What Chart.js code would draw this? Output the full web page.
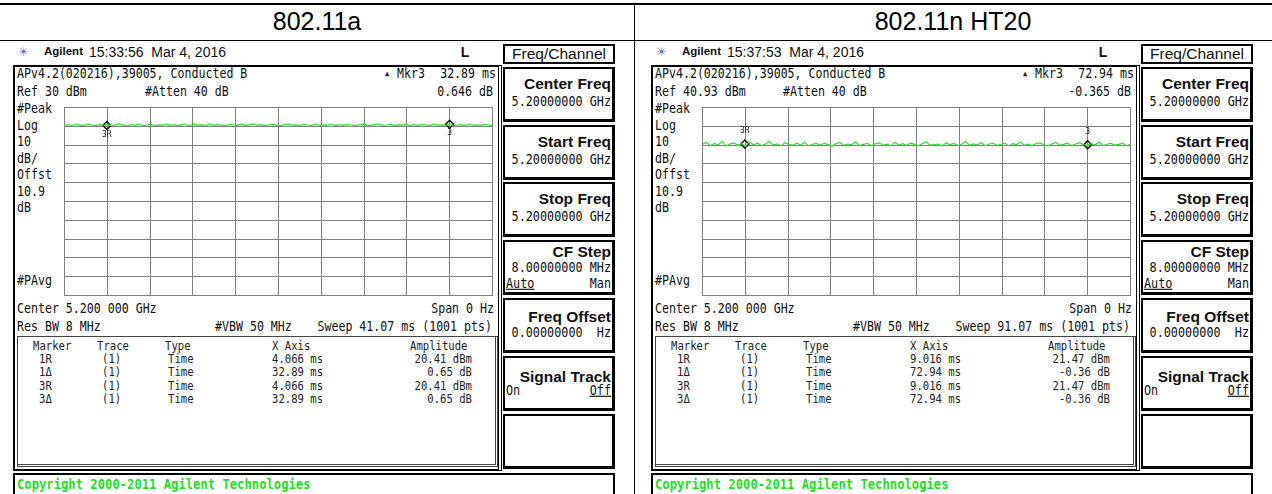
<!DOCTYPE html>
<html>
<head>
<meta charset="utf-8">
<script src="https://cdn.jsdelivr.net/npm/chart.js@4.4.1/dist/chart.umd.min.js"></script>
<style>
  html, body { margin: 0; padding: 0; background: #fff; }
  #page { position: relative; width: 1272px; height: 494px; overflow: hidden; background: #fff; }
  .t { position: absolute; white-space: pre; line-height: 1; color: #111; }
  .mono { font-family: 'DejaVu Sans Mono', 'Liberation Mono', monospace; font-size: 11.6px; }
  .small { font-family: 'DejaVu Sans Mono', 'Liberation Mono', monospace; font-size: 10.6px; color: #222; }
  .key { font-family: 'Liberation Sans', Arial, sans-serif; font-size: 15.5px; font-weight: bold; }
  .keyval { font-family: 'DejaVu Sans Mono', 'Liberation Mono', monospace; font-size: 11.8px; }
  .title { font-family: 'Liberation Sans', Arial, sans-serif; font-size: 25px; color: #000; }
  .box { position: absolute; box-sizing: border-box; }
  .u { text-decoration: underline; }
  canvas { position: absolute; }
</style>
</head>
<body>
<div id="page"></div>
<script>
// panel titles
const titles = ['802.11a', '802.11n HT20'];
const timestamps = ['15:33:56  Mar 4, 2016', '15:37:53  Mar 4, 2016'];
// analyzer settings (dBm, ms)
const refLevels = [30, 40.93];
const sweepTimes = [41.07, 91.07];
// marker readouts
const mkrRefTimes = [4.066, 9.016];
const mkrDeltaTimes = [32.89, 72.94];
const mkrRefAmps = [20.41, 21.47];
const mkrDeltaAmps = [0.65, -0.36];
const mkrDeltaReadout = ['0.646 dB', '-0.365 dB'];

// trace samples (dBm), evenly spaced across the sweep
const trace80211a = [
  20.5,20.9,20.3,21.1,20.6,20.4,21.2,20.7,20.3,20.9,
  20.5,21.0,20.4,20.8,21.3,20.6,20.2,20.9,20.5,21.1,
  20.4,20.7,21.0,20.3,20.8,20.6,21.2,20.5,20.9,20.4,
  21.0,20.7,20.3,21.1,20.6,20.8,20.4,21.2,20.5,20.9,
  20.6,20.3,21.0,20.7,20.5,21.1,20.4,20.8,21.3,20.6,
  20.9,20.4,20.7,21.0,20.5,20.3,20.9,21.2,20.6,20.8,
  20.4,21.0,20.7,20.5,21.1,20.3,20.8,20.6,21.2,20.4,
  20.9,20.5,21.0,20.7,20.3,20.8,21.1,20.6,20.4,20.9,
  21.2,20.5,20.7,21.0,20.4,20.8,20.6,21.1,20.3,20.9,
  20.5,21.0,20.7,20.4,21.2,20.6,20.8,20.5,21.0,20.3,
  20.7,20.9,20.4,21.1,20.6,20.8,20.5,21.0,20.7,20.4
];
const trace80211n = [
  21.2,22.4,20.6,21.8,21.0,22.9,20.4,21.5,22.1,20.8,
  21.7,20.3,22.6,21.1,21.9,20.7,21.4,23.0,20.9,21.6,
  20.5,22.2,21.3,20.8,21.9,21.0,22.5,20.6,21.4,21.8,
  20.9,22.0,21.2,20.4,21.7,22.3,20.8,21.5,21.1,22.7,
  20.6,21.3,21.9,20.7,21.6,22.1,20.9,21.4,20.5,22.4,
  21.0,21.7,20.8,22.0,21.3,20.6,21.8,22.6,20.9,21.2,
  21.5,20.4,22.2,21.1,21.8,20.7,21.4,22.8,20.9,21.6,
  21.0,22.3,20.6,21.5,21.9,20.8,21.3,22.0,20.5,21.7,
  21.2,22.5,20.9,21.4,20.7,21.8,22.1,21.0,20.6,21.6,
  22.4,20.8,21.3,21.9,20.5,21.5,22.2,21.1,20.8,21.7,
  21.0,22.6,20.7,21.4,21.9,20.9,21.3,22.0,20.6,21.5
];
const traces = [trace80211a, trace80211n];

const page = document.getElementById('page');

function put(parent, x, y, s, cls, align) {
  const d = document.createElement('div');
  d.className = 't ' + (cls || 'mono');
  d.textContent = s;
  d.style.left = x + 'px';
  d.style.top = y + 'px';
  const tx = align === 'r' ? '-100%' : align === 'c' ? '-50%' : '0';
  const tall = /mono|small|keyval/.test(d.className) ? ' scale(1, 1.15)' : '';
  d.style.transform = 'translate(' + tx + ', -50%)' + tall;
  parent.appendChild(d);
  return d;
}

function box(parent, x, y, w, h, css) {
  const d = document.createElement('div');
  d.className = 'box';
  d.style.cssText = `left:${x}px;top:${y}px;width:${w}px;height:${h}px;` + css;
  parent.appendChild(d);
  return d;
}

// outer table lines
box(page, 0, 3, 1272, 2, 'background:#000');
box(page, 0, 40, 1272, 1, 'background:#000');
box(page, 634, 3, 1, 491, 'background:#000');
put(page, 317, 21, titles[0], 'title', 'c');
put(page, 953, 21, titles[1], 'title', 'c');

// draws marker labels next to the marker diamonds
const markerLabels = {
  id: 'markerLabels',
  afterDatasetsDraw(chart, args, opts) {
    const ctx = chart.ctx, xs = chart.scales.x, ys = chart.scales.y;
    ctx.save();
    ctx.font = '8px "DejaVu Sans Mono"';
    ctx.fillStyle = '#222';
    ctx.textAlign = 'center';
    ctx.textBaseline = 'middle';
    opts.items.forEach(m => {
      ctx.fillText(m.label, xs.getPixelForValue(m.x), ys.getPixelForValue(m.y) + opts.dy);
    });
    ctx.restore();
  }
};

function buildPanel(i, ox) {
  const p = document.createElement('div');
  p.style.cssText = `position:absolute;left:${ox}px;top:0;width:636px;height:494px;`;
  page.appendChild(p);

  // header line
  put(p, 18, 52, '\u2600', 'key', 'l').style.cssText += ';color:#6a6ae8;font-size:12px;font-weight:normal';
  put(p, 44, 52, 'Agilent', 'key', 'l').style.fontSize = '11.5px';
  put(p, 89, 52, timestamps[i], 'key', 'l').style.cssText += ';font-weight:normal;font-size:14px';
  put(p, 465, 52, 'L', 'key', 'c').style.fontSize = '14px';

  // main frame
  box(p, 13, 65, 489, 406, 'border:2px solid #000;border-right:4px double #000;');
  put(p, 17, 74, 'APv4.2(020216),39005, Conducted B');
  put(p, 385, 74, '\u25B2', 'small', 'l').style.fontSize = '7px';
  put(p, 397, 74, 'Mkr3', 'mono', 'l');
  put(p, 496, 74, mkrDeltaTimes[i].toFixed(2) + ' ms', 'mono', 'r');
  put(p, 17, 92, 'Ref ' + refLevels[i] + ' dBm');
  put(p, 145, 92, '#Atten 40 dB');
  put(p, 493, 92, mkrDeltaReadout[i], 'mono', 'r');
  const side = ['#Peak', 'Log', '10', 'dB/', 'Offst', '10.9', 'dB'];
  side.forEach((s, k) => put(p, 17, 109 + k * 16.5, s));
  put(p, 17, 281, '#PAvg');
  put(p, 17, 309, 'Center 5.200 000 GHz');
  put(p, 494, 309, 'Span 0 Hz', 'mono', 'r');
  put(p, 17, 327, 'Res BW 8 MHz');
  put(p, 215, 327, '#VBW 50 MHz');
  put(p, 492, 327, 'Sweep ' + sweepTimes[i].toFixed(2) + ' ms (1001 pts)', 'mono', 'r');

  // marker table
  box(p, 17, 336, 481, 131, 'border:3px double #444;border-top:1px solid #444;border-left:1px solid #444;');
  put(p, 33, 346, 'Marker', 'small');
  put(p, 97, 346, 'Trace', 'small');
  put(p, 165, 346, 'Type', 'small');
  put(p, 272, 346, 'X Axis', 'small');
  put(p, 410, 346, 'Amplitude', 'small');
  const rows = [
    ['1R', mkrRefTimes[i].toFixed(3) + ' ms', mkrRefAmps[i].toFixed(2) + ' dBm'],
    ['1\u0394', mkrDeltaTimes[i].toFixed(2) + ' ms', mkrDeltaAmps[i].toFixed(2) + ' dB'],
    ['3R', mkrRefTimes[i].toFixed(3) + ' ms', mkrRefAmps[i].toFixed(2) + ' dBm'],
    ['3\u0394', mkrDeltaTimes[i].toFixed(2) + ' ms', mkrDeltaAmps[i].toFixed(2) + ' dB']
  ];
  rows.forEach((r, k) => {
    const y = 359 + k * 13.3;
    put(p, 39, y, r[0], 'small');
    put(p, 102, y, '(1)', 'small');
    put(p, 168, y, 'Time', 'small');
    put(p, 272, y, r[1], 'small');
    put(p, 472, y, r[2], 'small', 'r');
  });

  // softkeys
  box(p, 503, 44, 112, 20, 'border:2px solid #000;');
  put(p, 559, 54, 'Freq/Channel', 'key', 'c').style.fontWeight = 'normal';
  const tops = [67, 125, 182, 240, 298, 356, 414];
  tops.forEach(t => box(p, 503, t, 112, 55, 'border:2px solid #000;border-right:3px solid #000;border-bottom:3px solid #000;'));
  put(p, 611, tops[0] + 17, 'Center Freq', 'key', 'r');
  put(p, 611, tops[0] + 35, '5.20000000 GHz', 'keyval', 'r');
  put(p, 611, tops[1] + 17, 'Start Freq', 'key', 'r');
  put(p, 611, tops[1] + 35, '5.20000000 GHz', 'keyval', 'r');
  put(p, 611, tops[2] + 17, 'Stop Freq', 'key', 'r');
  put(p, 611, tops[2] + 35, '5.20000000 GHz', 'keyval', 'r');
  put(p, 611, tops[3] + 12, 'CF Step', 'key', 'r');
  put(p, 611, tops[3] + 28, '8.00000000 MHz', 'keyval', 'r');
  put(p, 506, tops[3] + 44, 'Auto', 'keyval u', 'l');
  put(p, 611, tops[3] + 44, 'Man', 'keyval', 'r');
  put(p, 611, tops[4] + 19, 'Freq Offset', 'key', 'r');
  put(p, 611, tops[4] + 35, '0.00000000  Hz', 'keyval', 'r');
  put(p, 611, tops[5] + 21, 'Signal Track', 'key', 'r');
  put(p, 506, tops[5] + 35, 'On', 'keyval', 'l');
  put(p, 611, tops[5] + 35, 'Off', 'keyval u', 'r');

  // copyright bar
  box(p, 13, 473, 602, 30, 'border:2px solid #000;');
  const c = put(p, 17, 485, 'Copyright 2000-2011 Agilent Technologies', 'mono', 'l');
  c.style.cssText += ';color:#1ee01e;font-weight:bold;font-size:12.2px';

  // plot grid
  const cv = document.createElement('canvas');
  cv.width = 439; cv.height = 199;
  cv.style.left = '59px'; cv.style.top = '102px';
  p.appendChild(cv);

  const ref = refLevels[i], sweep = sweepTimes[i], tr = traces[i];
  const pts = tr.map((v, k) => ({ x: k * sweep / (tr.length - 1), y: v }));
  const mk = [
    { x: mkrRefTimes[i], y: mkrRefAmps[i], label: '3R' },
    { x: mkrRefTimes[i] + mkrDeltaTimes[i], y: mkrRefAmps[i] + mkrDeltaAmps[i], label: '3' }
  ];
  const gridLines = (lo, hi) => ax => {
    ax.ticks = [];
    for (let k = 0; k <= 10; k++) ax.ticks.push({ value: lo + k * (hi - lo) / 10 });
  };

  new Chart(cv.getContext('2d'), {
    type: 'line',
    data: {
      datasets: [{
        data: pts,
        borderColor: '#2fdc2f',
        borderWidth: 1.2,
        pointRadius: 0,
        tension: 0
      }, {
        data: mk,
        showLine: false,
        pointStyle: 'rectRot',
        pointRadius: 4,
        borderColor: '#111',
        borderWidth: 1.5,
        backgroundColor: 'rgba(255,255,255,0)'
      }]
    },
    options: {
      responsive: false,
      animation: false,
      events: [],
      layout: { padding: 1 },
      plugins: {
        legend: { display: false },
        tooltip: { enabled: false },
        markerLabels: { items: mk, dy: i === 0 ? 9 : -13 }
      },
      scales: {
        x: {
          type: 'linear', min: 0, max: sweep,
          afterBuildTicks: gridLines(0, sweep),
          ticks: { display: false },
          grid: { color: '#808080', lineWidth: 1, drawTicks: false },
          border: { color: '#808080' }
        },
        y: {
          type: 'linear', min: ref - 100, max: ref,
          afterBuildTicks: gridLines(ref - 100, ref),
          ticks: { display: false },
          grid: { color: '#808080', lineWidth: 1, drawTicks: false },
          border: { color: '#808080' }
        }
      }
    },
    plugins: [markerLabels]
  });
}

buildPanel(0, 0);
buildPanel(1, 638);
</script>
</body>
</html>
